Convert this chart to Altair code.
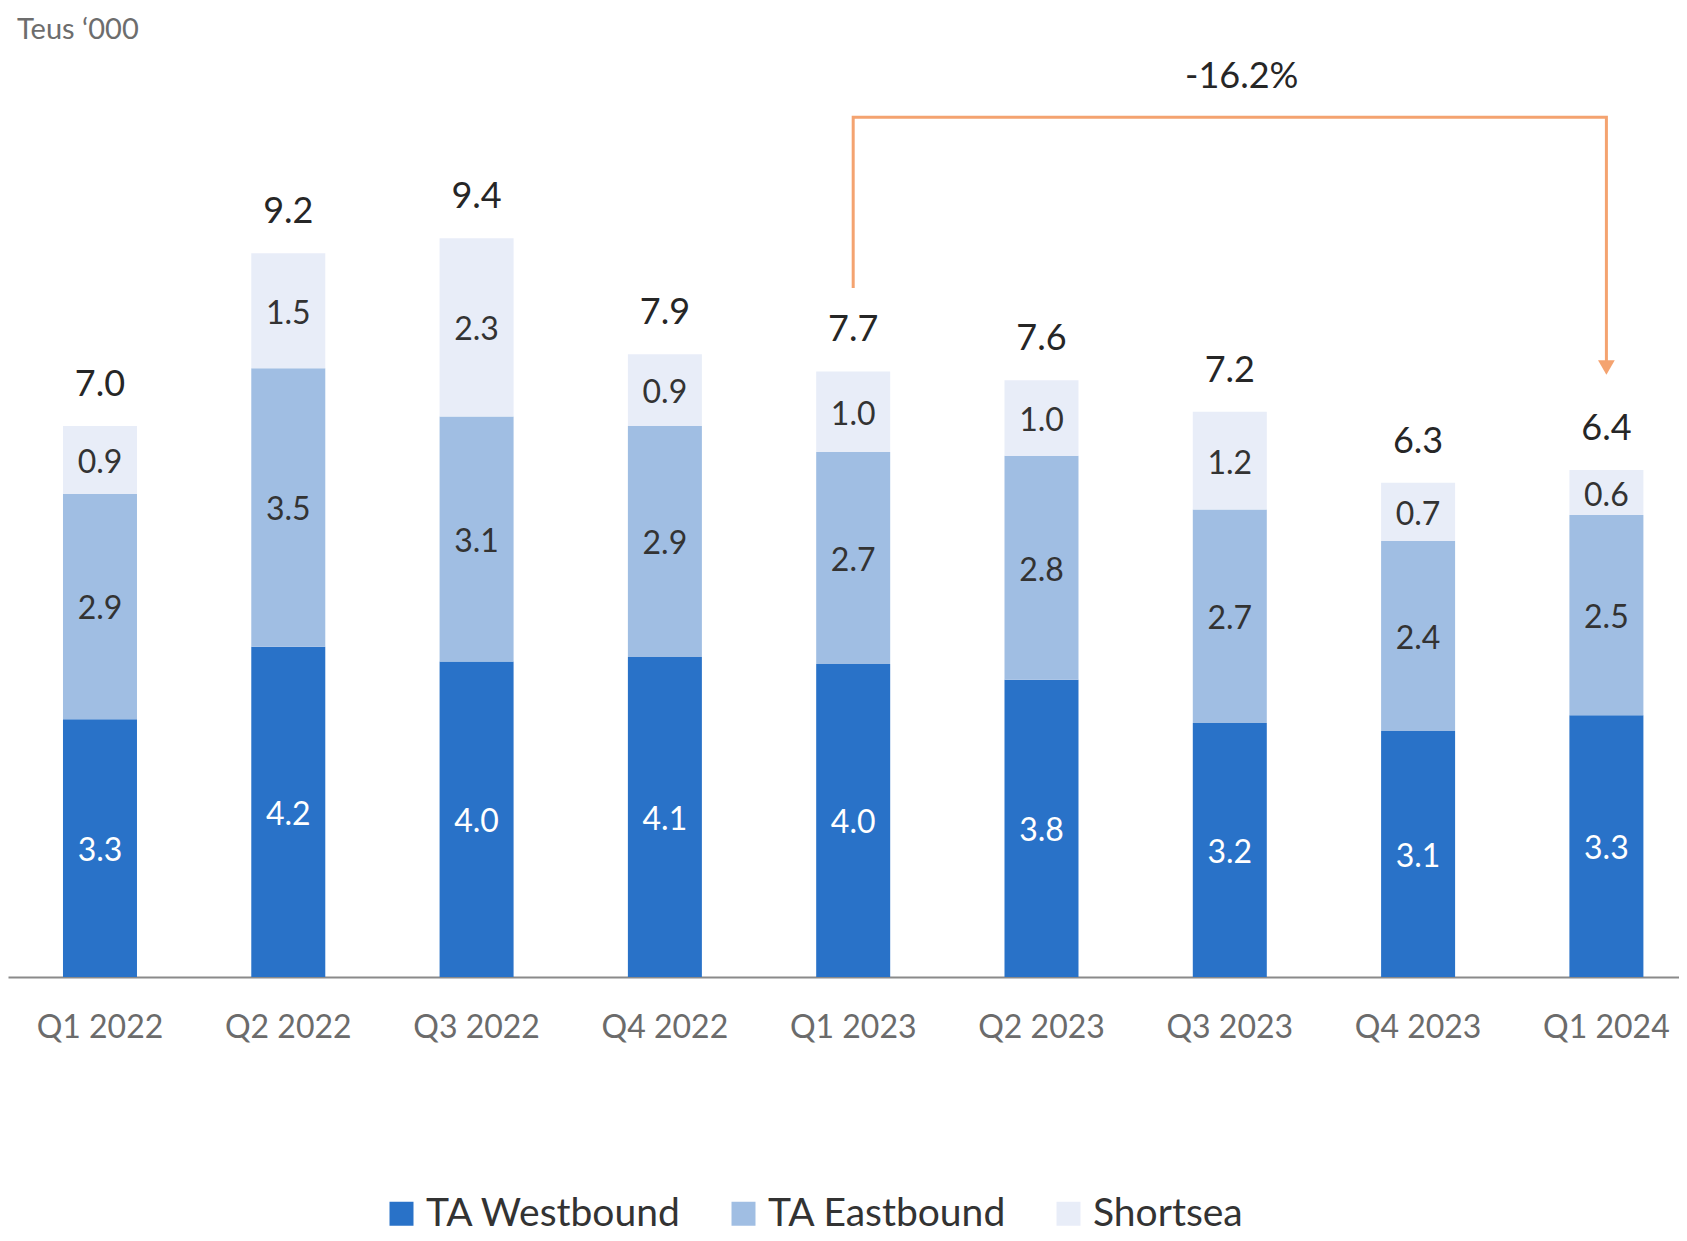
import altair as alt
import pandas as pd

categories = ["Q1 2022", "Q2 2022", "Q3 2022", "Q4 2022", "Q1 2023",
              "Q2 2023", "Q3 2023", "Q4 2023", "Q1 2024"]
westbound = [3.27, 4.19, 4.00, 4.06, 3.97, 3.77, 3.22, 3.12, 3.32]
eastbound = [2.86, 3.53, 3.11, 2.93, 2.69, 2.84, 2.71, 2.41, 2.54]
shortsea = [0.86, 1.46, 2.26, 0.91, 1.02, 0.96, 1.24, 0.74, 0.57]
series_names = ["TA Westbound", "TA Eastbound", "Shortsea"]
series_colors = ["#2972C8", "#A0BEE3", "#E8EDF8"]
change_label = "-16.2%"
unit_label = "Teus \u2018000"

rows = []
totals = []
for i, c in enumerate(categories):
    base = 0.0
    for name, vals in zip(series_names, [westbound, eastbound, shortsea]):
        v = vals[i]
        rows.append({"cat": c, "series": name, "y0": base, "y1": base + v,
                     "mid": base + v / 2, "val": v})
        base += v
    totals.append({"cat": c, "total": base})
df = pd.DataFrame(rows)
tot = pd.DataFrame(totals)

FONT = "Lato"
xscale = alt.Scale(domain=categories, paddingInner=0.607, paddingOuter=0.2405, align=0.607)
yscale = alt.Scale(domain=[0, 12.29], nice=False, zero=True)

X = alt.X("cat:N", scale=xscale, sort=categories,
          axis=alt.Axis(title=None, labelAngle=0, ticks=False, domainColor="#8a8a8a",
                        domainWidth=2, labelFontSize=32, labelFont=FONT,
                        labelColor="#6b6b6b", labelPadding=35))

bars = alt.Chart(df).mark_bar().encode(
    x=X,
    y=alt.Y("y0:Q", scale=yscale, axis=None),
    y2="y1:Q",
    color=alt.Color("series:N", scale=alt.Scale(domain=series_names, range=series_colors),
                    legend=alt.Legend(title=None, orient="none", legendX=374, legendY=1186,
                                      direction="horizontal", symbolType="square",
                                      symbolSize=576, symbolStrokeWidth=0,
                                      labelFontSize=39, labelFont=FONT, labelColor="#333333",
                                      labelLimit=0, columnPadding=42, labelOffset=5)),
)

seg_dark = alt.Chart(df).transform_filter(alt.datum.series != "TA Westbound").mark_text(
    fontSize=32, font=FONT, color="#333333", baseline="middle", dy=3).encode(
    x=alt.X("cat:N", scale=xscale, sort=categories),
    y=alt.Y("mid:Q", scale=yscale),
    text=alt.Text("val:Q", format=".1f"))

seg_white = alt.Chart(df).transform_filter(alt.datum.series == "TA Westbound").mark_text(
    fontSize=32, font=FONT, color="white", baseline="middle", dy=3).encode(
    x=alt.X("cat:N", scale=xscale, sort=categories),
    y=alt.Y("mid:Q", scale=yscale),
    text=alt.Text("val:Q", format=".1f"))

tot_text = alt.Chart(tot).mark_text(fontSize=36, font=FONT, color="#262626",
                                    baseline="middle", dy=-41).encode(
    x=alt.X("cat:N", scale=xscale, sort=categories),
    y=alt.Y("total:Q", scale=yscale),
    text=alt.Text("total:Q", format=".1f"))

arrow_df = pd.DataFrame({
    "cat": ["Q1 2023", "Q1 2023", "Q1 2024", "Q1 2024"],
    "y": [8.74, 10.905, 10.905, 7.80],
    "i": [0, 1, 2, 3],
})
arrow_line = alt.Chart(arrow_df).mark_line(color="#F4A370", strokeWidth=3).encode(
    x=alt.X("cat:N", scale=xscale, sort=categories),
    y=alt.Y("y:Q", scale=yscale),
    order="i:Q")
head_df = pd.DataFrame({"cat": ["Q1 2024"], "y": [7.73]})
arrow_head = alt.Chart(head_df).mark_point(shape="triangle-down", filled=True, size=280,
                                           color="#F4A370", opacity=1).encode(
    x=alt.X("cat:N", scale=xscale, sort=categories),
    y=alt.Y("y:Q", scale=yscale))

chg_df = pd.DataFrame({"cat": ["Q3 2023"], "y": [11.41], "t": [change_label]})
chg_text = alt.Chart(chg_df).mark_text(fontSize=36, font=FONT, color="#262626",
                                       baseline="middle", dx=12).encode(
    x=alt.X("cat:N", scale=xscale, sort=categories),
    y=alt.Y("y:Q", scale=yscale),
    text="t:N")

unit_df = pd.DataFrame({"t": [unit_label]})
unit_text = alt.Chart(unit_df).mark_text(fontSize=29, font=FONT, color="#6d6d6d",
                                         align="left", baseline="middle").encode(
    x=alt.value(9), y=alt.value(22), text="t:N")

chart = alt.layer(bars, seg_dark, seg_white, tot_text, arrow_line, arrow_head,
                  chg_text, unit_text).properties(
    width=1671, height=969,
    background="white",
    autosize=alt.AutoSizeParams(type="none"),
    padding={"left": 0, "top": 0, "right": 0, "bottom": 256},
).configure_view(stroke=None)

chart.save("out.html", embed_options={"renderer": "svg", "actions": False})
